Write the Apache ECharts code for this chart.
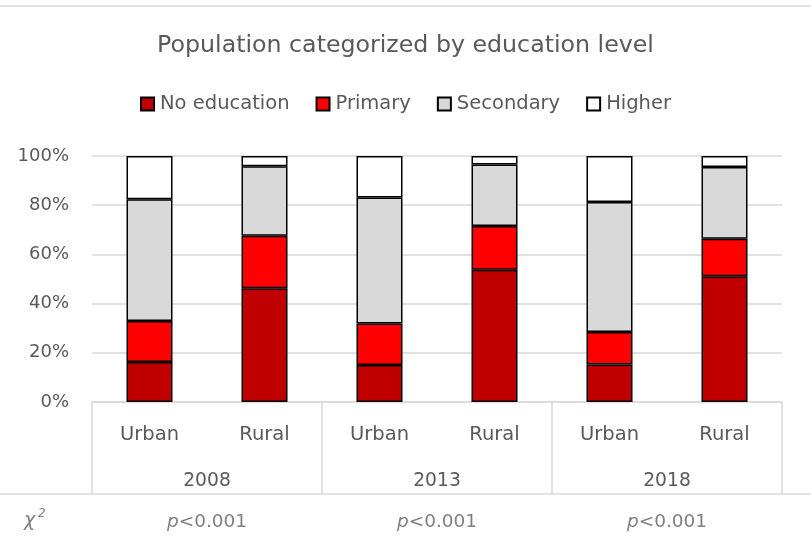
<!DOCTYPE html>
<html>
<head>
<meta charset="utf-8">
<script src="https://cdn.jsdelivr.net/npm/echarts@6/dist/echarts.min.js"></script>
<style>
  html, body { margin: 0; padding: 0; background: #fff; }
  #chart { width: 811px; height: 545px; }
</style>
</head>
<body>
<div id="chart"></div>
<script>
// Population share (%) by education level, per survey year and residence
const places = ['Urban', 'Rural', 'Urban', 'Rural', 'Urban', 'Rural'];
const years = ['2008', '2013', '2018'];
const pValues = ['p<0.001', 'p<0.001', 'p<0.001'];
const noEducation = [16.3, 46.2, 15.0, 53.8, 15.2, 51.1];
const primary     = [16.6, 21.4, 16.9, 17.7, 13.3, 15.3];
const secondary   = [49.5, 28.2, 51.2, 25.0, 52.8, 29.1];
const higher      = [17.6, 4.2, 16.9, 3.5, 18.7, 4.5];
const yTicks = [0, 20, 40, 60, 80, 100];

const FONT = 'DejaVu Sans';
const TEXT = '#595959';
const MUTED = '#7f7f7f';
const RULE = '#d9d9d9';

const seriesDefs = [
  { name: 'No education', data: noEducation, color: '#C00000' },
  { name: 'Primary',      data: primary,     color: '#FF0000' },
  { name: 'Secondary',    data: secondary,   color: '#D9D9D9' },
  { name: 'Higher',       data: higher,      color: '#FFFFFF' }
];

const chart = echarts.init(document.getElementById('chart'), null, { renderer: 'canvas' });

const gridLeft = 92, gridRight = 29, gridTop = 156, gridBottom = 143;

chart.setOption({
  animation: false,
  backgroundColor: '#ffffff',
  textStyle: { fontFamily: FONT },
  title: {
    text: 'Population categorized by education level',
    left: 'center',
    top: 29,
    textStyle: { fontFamily: FONT, fontSize: 23.7, fontWeight: 'normal', color: TEXT }
  },
  legend: {
    top: 89,
    left: 'center',
    itemWidth: 13,
    itemHeight: 13,
    itemGap: 26,
    icon: 'rect',
    textStyle: { fontFamily: FONT, fontSize: 19.5, color: TEXT, padding: [0, 0, 0, 1] },
    data: seriesDefs.map(s => s.name)
  },
  grid: { left: gridLeft, right: gridRight, top: gridTop, bottom: gridBottom, containLabel: false },
  xAxis: [
    {
      type: 'category',
      data: places,
      position: 'bottom',
      axisLine: { show: true, lineStyle: { color: RULE, width: 1.5 } },
      axisTick: { show: false },
      axisLabel: { color: TEXT, fontFamily: FONT, fontSize: 19.5, margin: 23 },
      splitLine: { show: false }
    },
    {
      type: 'category',
      data: years,
      position: 'bottom',
      axisLine: { show: false },
      axisTick: { show: true, length: 92, lineStyle: { color: RULE, width: 1.5 } },
      axisLabel: { color: TEXT, fontFamily: FONT, fontSize: 18.7, margin: 70 },
      splitLine: { show: false }
    },
    {
      type: 'category',
      data: pValues,
      position: 'bottom',
      axisLine: { show: false },
      axisTick: { show: false },
      axisLabel: {
        margin: 111,
        formatter: v => '{it|p}{n|' + v.slice(1) + '}',
        rich: {
          it: { fontFamily: FONT, fontSize: 18.5, fontStyle: 'italic', color: MUTED },
          n: { fontFamily: FONT, fontSize: 18.5, color: MUTED }
        }
      },
      splitLine: { show: false }
    }
  ],
  yAxis: {
    type: 'value',
    min: 0,
    max: 100,
    interval: 20,
    axisLine: { show: false },
    axisTick: { show: false },
    axisLabel: {
      color: TEXT, fontFamily: FONT, fontSize: 18, margin: 23,
      formatter: v => (yTicks.indexOf(v) >= 0 ? v + '%' : '')
    },
    splitLine: { show: true, lineStyle: { color: RULE, width: 1.5 } }
  },
  series: seriesDefs.map(s => ({
    name: s.name,
    type: 'bar',
    stack: 'share',
    xAxisIndex: 0,
    barWidth: '40%',
    data: s.data,
    itemStyle: { color: s.color, borderColor: '#000000', borderWidth: 1.5 },
    emphasis: { disabled: true }
  })),
  graphic: [
    { type: 'line', silent: true, shape: { x1: 0, y1: 6, x2: 811, y2: 6 }, style: { stroke: RULE, lineWidth: 1.5 } },
    { type: 'line', silent: true, shape: { x1: 0, y1: 494, x2: 811, y2: 494 }, style: { stroke: RULE, lineWidth: 1.5 } },
    {
      type: 'text', silent: true, left: 24, top: 512,
      style: { text: 'χ', font: 'italic 19px "DejaVu Sans"', fill: MUTED }
    },
    {
      type: 'text', silent: true, left: 38, top: 508,
      style: { text: '2', font: 'italic 12px "DejaVu Sans"', fill: MUTED }
    }
  ]
});
</script>
</body>
</html>
